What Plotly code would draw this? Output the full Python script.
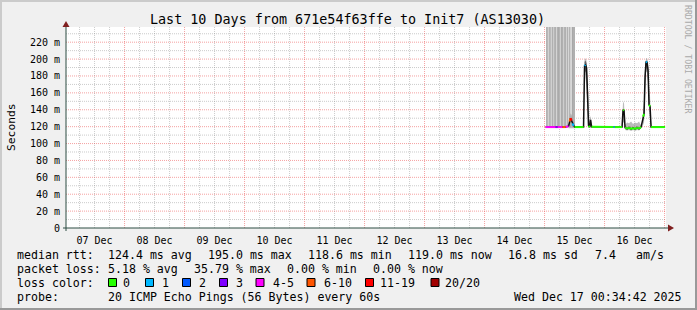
import plotly.graph_objects as go
import pandas as pd

# ---------------- data ----------------
TITLE = "Last 10 Days from 671e54f63ffe to Init7 (AS13030)"
X_START = "2025-12-07 00:34:42"
X_END = "2025-12-17 00:34:42"
DAY_TICK_TIMES = ["2025-12-07 12:00", "2025-12-08 12:00", "2025-12-09 12:00", "2025-12-10 12:00",
                  "2025-12-11 12:00", "2025-12-12 12:00", "2025-12-13 12:00", "2025-12-14 12:00",
                  "2025-12-15 12:00", "2025-12-16 12:00"]
DAY_TICK_LABELS = ["07 Dec", "08 Dec", "09 Dec", "10 Dec", "11 Dec", "12 Dec", "13 Dec", "14 Dec",
                   "15 Dec", "16 Dec"]
Y_TICK_VALUES = [0, 20, 40, 60, 80, 100, 120, 140, 160, 180, 200, 220]
Y_TICK_LABELS = ["0", "20 m", "40 m", "60 m", "80 m", "100 m", "120 m", "140 m", "160 m", "180 m",
                 "200 m", "220 m"]
Y_MAX = 238

DATA_ORIGIN = "2025-12-15 00:00"   # hours below are counted from here

median_hours = [0.4, 4.4, 5.2, 7.2, 8.4, 9.6, 10.0, 10.4, 10.8, 11.2, 11.6, 12.0, 15.6, 16.0, 16.4,
                16.8, 17.2, 17.6, 18.0, 18.4, 18.8, 27.6, 28.0, 31.0, 31.4, 31.8, 32.2, 33.0, 33.8,
                34.6, 35.4, 36.2, 37.0, 37.8, 38.6, 39.4, 39.8, 40.2, 40.6, 41.0, 41.4, 41.8, 42.2,
                42.6, 48.2]
median_ms = [119.5, 119.5, 119.5, 119.5, 119.5, 120.5, 126, 130, 127, 124, 121, 119.5, 119.5, 192,
             193, 190, 157, 121, 119.5, 128, 120, 119.5, 119.5, 119.5, 140, 139, 119, 117.5, 119,
             117, 118.5, 117, 119, 117.5, 119.5, 132, 135, 179, 197, 196, 187, 146, 144, 119.5, 119.5]
# loss class of each median segment ("" = transition drawn only in black)
segment_loss = ["4-5", "3", "4-5", "6-10", "4-5", "", "6-10", "11-19", "", "1", "", "0", "", "1",
                "", "", "", "0", "", "", "0", "1", "0", "", "0", "", "0", "0", "0", "0", "0", "0",
                "0", "0", "", "0", "", "", "1", "", "", "0", "", "0"]

loss_labels = ["0", "1", "2", "3", "4-5", "6-10", "11-19", "20/20"]
loss_colors = ["#26ff00", "#00b8ff", "#0059ff", "#7e00ff", "#ff00ff", "#ff5500", "#ff0000", "#a10000"]

# smoke (spread of the individual pings)
smoke_bump_hours = [9.6, 10.0, 10.4, 10.8, 11.2, 11.6, 12.0]
smoke_bump_lo = [118, 118, 118, 118, 118, 118, 118]
smoke_bump_hi = [121, 131, 136, 134, 130, 124, 120]
smoke_peak1_hours = [15.6, 16.0, 16.4, 16.8, 17.2, 17.6, 18.0, 18.4, 18.8, 19.2]
smoke_peak1_lo = [119, 170, 182, 172, 140, 119, 119, 119, 119, 119]
smoke_peak1_hi = [121, 199, 201, 198, 176, 140, 126, 133, 126, 120]
smoke_spike_hours = [31.0, 31.4, 31.8, 32.2]
smoke_spike_lo = [119, 125, 125, 119]
smoke_spike_hi = [120, 150, 147, 120]
smoke_noise_hours = [32.2, 33.0, 33.8, 34.6, 35.4, 36.2, 37.0, 37.8, 38.6]
smoke_noise_lo = [116, 115.5, 116, 115, 116, 115, 116, 115.5, 118]
smoke_noise_hi = [122, 125, 124, 126, 123, 125, 124, 126, 121]
smoke_peak2_hours = [39.0, 39.4, 39.8, 40.2, 40.6, 41.0, 41.4, 41.8, 42.2, 42.6, 43.0]
smoke_peak2_lo = [119, 122, 125, 160, 185, 185, 175, 140, 130, 119, 119]
smoke_peak2_hi = [120, 141, 152, 191, 201, 201, 197, 168, 156, 126, 120]

dark_peak1_hours = [15.8, 16.0, 16.4, 16.8, 17.2, 17.4]
dark_peak1_lo = [120, 182, 186, 181, 147, 120]
dark_peak1_hi = [122, 197, 198, 195, 168, 124]
dark_peak2_hours = [39.6, 40.0, 40.4, 40.8, 41.2, 41.6, 42.0]
dark_peak2_lo = [124, 150, 183, 190, 184, 150, 130]
dark_peak2_hi = [130, 165, 196, 198, 194, 165, 140]

# off-scale smoke columns during the lossy start
bar_hours = [1.0, 1.4, 1.8, 2.2, 2.6, 3.0, 3.4, 3.8, 4.2, 4.6, 5.0, 5.4, 5.8, 6.2, 6.6, 7.0, 7.4,
             7.8, 8.2, 8.6, 9.0, 9.4, 9.8, 10.2, 10.6, 11.0, 11.4, 11.8]
bar_top_ms = [245, 245, 245, 245, 245, 245, 245, 245, 245, 245, 245, 245, 245, 245, 245, 245, 245,
              245, 245, 245, 245, 245, 245, 245, 245, 245, 245, 245]
bar_base_ms = 121
bar_shade = ["#b2b2b2", "#b8b8b8", "#d2d2d2", "#b4b4b4", "#bcbcbc", "#d0d0d0", "#b0b0b0", "#cccccc",
             "#b6b6b6", "#b0b0b0", "#d4d4d4", "#b2b2b2", "#aaaaaa", "#b4b4b4", "#d0d0d0", "#acacac",
             "#b0b0b0", "#cecece", "#b4b4b4", "#b0b0b0", "#d2d2d2", "#b2b2b2", "#d6d6d6", "#b4b4b4",
             "#d2d2d2", "#d8d8d8", "#a8a8a8", "#b0b0b0"]

stats_row1 = [("median rtt:", 16), ("124.4 ms avg", 107), ("195.0 ms max", 207), ("118.6 ms min", 307),
              ("119.0 ms now", 407), ("16.8 ms sd", 507), ("7.4", 594), ("am/s", 635)]
stats_row2 = [("packet loss:", 16), ("5.18 % avg", 107), ("35.79 % max", 193), ("0.00 % min", 286),
              ("0.00 % now", 372)]
stats_row4 = [("probe:", 16), ("20 ICMP Echo Pings (56 Bytes) every 60s", 107),
              ("Wed Dec 17 00:34:42 2025", 513)]
legend_box_px = [108.5, 145.5, 182.5, 219.5, 256, 307, 365.5, 431]
legend_text_px = [122, 161, 198, 235, 272, 323, 379, 444]
WATERMARK = "RRDTOOL / TOBI OETIKER"

# ---------------- helpers ----------------
FONT = "DejaVu Sans Mono"
origin = pd.Timestamp(DATA_ORIGIN)


def to_time(hours):
    return [origin + pd.Timedelta(hours=h) for h in hours]


def px_x(px):
    return (px - 66) / 600.0


def px_y(py):
    return (228 - py) / 201.0


fig = go.Figure()

# off-scale smoke columns
fig.add_trace(go.Bar(
    x=to_time(bar_hours), y=[t - bar_base_ms for t in bar_top_ms], base=bar_base_ms,
    width=0.4 * 3600 * 1000, marker=dict(color=bar_shade, line=dict(width=0)),
    hoverinfo="skip", showlegend=False))

# light smoke
for hrs, lo, hi in [(smoke_bump_hours, smoke_bump_lo, smoke_bump_hi),
                    (smoke_peak1_hours, smoke_peak1_lo, smoke_peak1_hi),
                    (smoke_spike_hours, smoke_spike_lo, smoke_spike_hi),
                    (smoke_noise_hours, smoke_noise_lo, smoke_noise_hi),
                    (smoke_peak2_hours, smoke_peak2_lo, smoke_peak2_hi)]:
    t = to_time(hrs)
    fig.add_trace(go.Scatter(x=t + t[::-1], y=hi + lo[::-1], fill="toself", mode="lines",
                             line=dict(width=0), fillcolor="rgba(150,150,150,0.65)",
                             hoverinfo="skip", showlegend=False))
# darker smoke close to the median
for hrs, lo, hi in [(dark_peak1_hours, dark_peak1_lo, dark_peak1_hi),
                    (dark_peak2_hours, dark_peak2_lo, dark_peak2_hi)]:
    t = to_time(hrs)
    fig.add_trace(go.Scatter(x=t + t[::-1], y=hi + lo[::-1], fill="toself", mode="lines",
                             line=dict(width=0), fillcolor="rgba(70,70,70,0.75)",
                             hoverinfo="skip", showlegend=False))

# median line
med_t = to_time(median_hours)
fig.add_trace(go.Scatter(x=med_t, y=median_ms, mode="lines", line=dict(color="#111111", width=1.5),
                         hoverinfo="skip", showlegend=False))
for lab, col in zip(loss_labels, loss_colors):
    xs, ys = [], []
    for i, s in enumerate(segment_loss):
        if s == lab:
            xs += [med_t[i], med_t[i + 1], None]
            ys += [median_ms[i], median_ms[i + 1], None]
    if xs:
        fig.add_trace(go.Scatter(x=xs, y=ys, mode="lines", line=dict(color=col, width=2),
                                 hoverinfo="skip", showlegend=False))

shapes = []
# grid
for t in pd.date_range("2025-12-07 06:00", "2025-12-17 00:00", freq="6h"):
    if t.hour != 0:
        shapes.append(dict(type="line", xref="x", yref="paper", x0=t, x1=t, y0=0, y1=1, layer="below",
                           line=dict(color="rgba(140,140,140,0.45)", width=1, dash="1px,1px")))
for v in range(10, Y_MAX, 20):
    shapes.append(dict(type="line", xref="paper", yref="y", x0=0, x1=1, y0=v, y1=v, layer="below",
                       line=dict(color="rgba(140,140,140,0.45)", width=1, dash="1px,1px")))
for t in pd.date_range("2025-12-08", "2025-12-17", freq="D"):
    shapes.append(dict(type="line", xref="x", yref="paper", x0=t, x1=t, y0=0, y1=1, layer="below",
                       line=dict(color="rgba(235,70,70,0.5)", width=1, dash="1px,1px")))
for v in Y_TICK_VALUES[1:]:
    shapes.append(dict(type="line", xref="paper", yref="y", x0=0, x1=1, y0=v, y1=v, layer="below",
                       line=dict(color="rgba(235,70,70,0.5)", width=1, dash="1px,1px")))

AXIS = "#2C4D43"
ARROW = "#7F1F1F"
# axes
shapes.append(dict(type="line", xref="paper", yref="paper", x0=px_x(63), x1=px_x(669), y0=px_y(228),
                   y1=px_y(228), line=dict(color=AXIS, width=1)))
shapes.append(dict(type="line", xref="paper", yref="paper", x0=px_x(66), x1=px_x(66), y0=px_y(231),
                   y1=px_y(25), line=dict(color=AXIS, width=1)))
shapes.append(dict(type="path", xref="paper", yref="paper", fillcolor=ARROW, line=dict(width=0),
                   path="M {} {} L {} {} L {} {} Z".format(px_x(668), px_y(224.5), px_x(674), px_y(228),
                                                          px_x(668), px_y(231.5))))
shapes.append(dict(type="path", xref="paper", yref="paper", fillcolor=ARROW, line=dict(width=0),
                   path="M {} {} L {} {} L {} {} Z".format(px_x(62.5), px_y(27), px_x(66), px_y(21),
                                                          px_x(69.5), px_y(27))))
# frame shading
shapes.append(dict(type="rect", xref="paper", yref="paper", x0=px_x(0), x1=px_x(697), y0=px_y(0),
                   y1=px_y(2), fillcolor="#CBCBCB", line=dict(width=0)))
shapes.append(dict(type="rect", xref="paper", yref="paper", x0=px_x(0), x1=px_x(2), y0=px_y(0),
                   y1=px_y(310), fillcolor="#CBCBCB", line=dict(width=0)))
shapes.append(dict(type="rect", xref="paper", yref="paper", x0=px_x(695), x1=px_x(697), y0=px_y(0),
                   y1=px_y(310), fillcolor="#999999", line=dict(width=0)))
shapes.append(dict(type="rect", xref="paper", yref="paper", x0=px_x(0), x1=px_x(697), y0=px_y(308),
                   y1=px_y(310), fillcolor="#999999", line=dict(width=0)))
# legend colour boxes
for bx, col in zip(legend_box_px, loss_colors):
    shapes.append(dict(type="rect", xref="paper", yref="paper", x0=px_x(bx), x1=px_x(bx + 8),
                       y0=px_y(278.5), y1=px_y(286.5), fillcolor=col, line=dict(color="#000000", width=1)))

ann = []


def text(s, px, py, size=11.6, anchor="left", angle=0, color="#000000"):
    ann.append(dict(text=s, x=px_x(px), y=px_y(py), xref="paper", yref="paper", showarrow=False,
                    xanchor=anchor, yanchor="middle", borderpad=0, textangle=angle,
                    font=dict(family=FONT, size=size, color=color)))


text(TITLE, 347.5, 19.5, size=13.4, anchor="center")
text("Seconds", 12, 127, size=11.3, anchor="center", angle=-90)
text(WATERMARK, 688, 59, size=8.2, anchor="center", angle=90, color="#aaaaaa")
for s, px in stats_row1:
    text(s, px - 0.5, 254.5)
for s, px in stats_row2:
    text(s, px - 0.5, 268.5)
text("loss color:", 15.5, 282.5)
for lab, px in zip(loss_labels, legend_text_px):
    text(lab, px, 282.5)
for s, px in stats_row4:
    text(s, px - 0.5, 296.5)

fig.update_layout(
    width=697, height=310, margin=dict(l=66, r=31, t=27, b=82, pad=0),
    paper_bgcolor="#F0F0F0", plot_bgcolor="#FFFFFF", showlegend=False,
    shapes=shapes, annotations=ann, bargap=0,
    xaxis=dict(type="date", range=[X_START, X_END], tickmode="array", tickvals=DAY_TICK_TIMES,
               ticktext=DAY_TICK_LABELS, showgrid=False, zeroline=False, showline=False,
               ticks="outside", ticklen=3, tickcolor="rgba(0,0,0,0)",
               tickfont=dict(family=FONT, size=10, color="#000000"), fixedrange=True),
    yaxis=dict(range=[0, Y_MAX], tickmode="array", tickvals=Y_TICK_VALUES, ticktext=Y_TICK_LABELS,
               showgrid=False, zeroline=False, showline=False, ticks="outside", ticklen=3,
               tickcolor="rgba(0,0,0,0)", tickfont=dict(family=FONT, size=10, color="#000000"),
               fixedrange=True),
)

fig.write_html("out.html")
